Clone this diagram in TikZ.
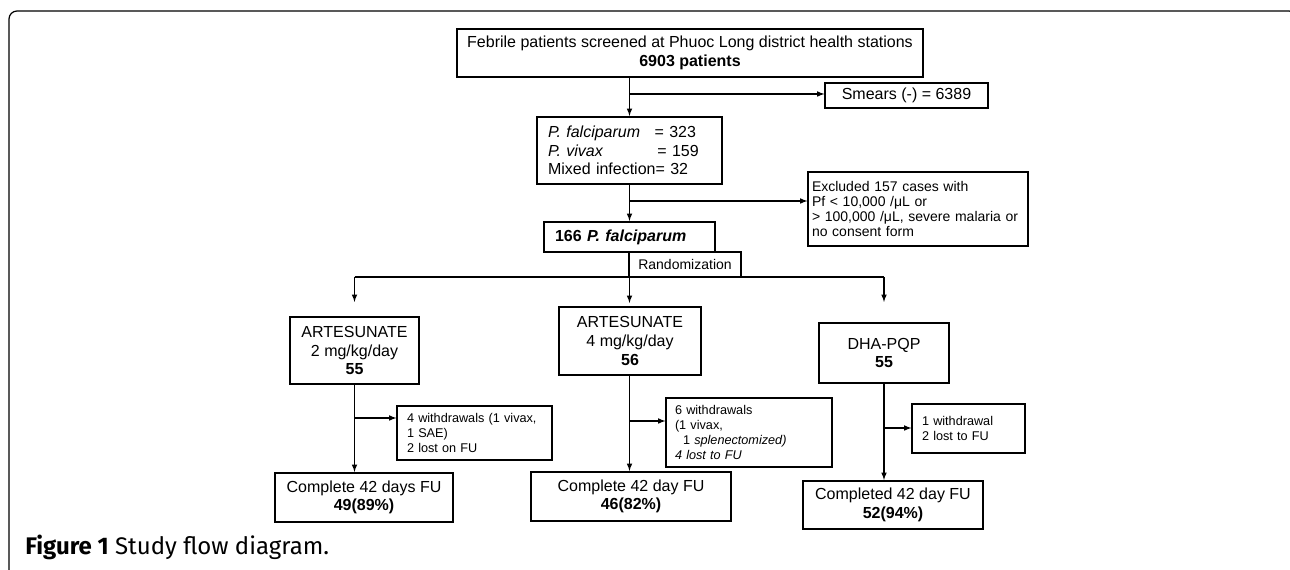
\documentclass[tikz,border=0pt]{standalone}
\usepackage{fontspec}
\setmainfont{Liberation Sans}
\newfontfamily\capfont{Fira Sans}
\usetikzlibrary{arrows,positioning}

\begin{document}
\begin{tikzpicture}[x=0.75pt,y=-0.75pt,
    bigtext/.style={font=\fontsize{12}{14}\selectfont},
    smalltext/.style={font=\fontsize{10.5}{11.25}\selectfont},
    wtext/.style={font=\fontsize{9.5}{11.25}\selectfont},
    mainbox/.style={draw,line width=1.6pt,inner sep=0pt,align=center,bigtext},
    sidebox/.style={draw,line width=0.8pt,inner ysep=0pt,align=left,smalltext},
    flow/.style={-latex,line width=0.9pt}]
  \useasboundingbox (0,0) rectangle (1290,570);
  \clip (0,0) rectangle (1290,570);
  % outer frame
  \draw[line width=0.9pt,rounded corners=6pt] (9,590) -- (9,11) -- (1297,11) -- (1297,60);

  % screening
  \node[mainbox,minimum width=349.5pt,minimum height=36pt] (screen) at (690,53)
    {Febrile patients screened at Phuoc Long district health stations\\\textbf{6903 patients}};
  \node[sidebox,bigtext,align=center,inner sep=0pt,minimum width=122.25pt,minimum height=18.75pt] (smear) at (906.5,95.5)
    {Smears (-) = 6389};
  \node[mainbox,align=left,text width=122.25pt,inner xsep=8.25pt,minimum height=50.25pt] (species) at (629.5,150.5)
    {\makebox[80pt][l]{\textit{P. falciparum}}= 323\\
     \makebox[82pt][l]{\textit{P. vivax}}= 159\\
     Mixed infection= 32};
  \node[sidebox,text width=159pt,inner xsep=3pt,minimum height=55.5pt] (excluded) at (918,209)
    {Excluded 157 cases with\\Pf < 10,000 /μL or\\> 100,000 /μL, severe malaria or\\no consent form};
  \node[mainbox,align=left,text width=111.75pt,inner xsep=8.25pt,minimum height=22.5pt] (pfal) at (629.5,237)
    {\textbf{166 \textit{P. falciparum}}};
  \node[sidebox,align=center,inner sep=0pt,minimum width=84pt,minimum height=18.75pt] (random) at (685,264.5)
    {Randomization};

  % arms
  \node[mainbox,minimum width=96.75pt,minimum height=50.25pt] (arts2) at (354.5,350.5)
    {ARTESUNATE\\2 mg/kg/day\\\textbf{55}};
  \node[mainbox,minimum width=106.5pt,minimum height=51pt] (arts4) at (630,341)
    {ARTESUNATE\\4 mg/kg/day\\\textbf{56}};
  \node[mainbox,minimum width=97.5pt,minimum height=45pt] (dhapqp) at (884,353)
    {DHA-PQP\\\textbf{55}};

  \node[sidebox,wtext,text width=101.25pt,inner xsep=7.5pt,minimum height=40.5pt] (with1) at (474.5,433)
    {4 withdrawals (1 vivax,\\1 SAE)\\2 lost on FU};
  \node[sidebox,wtext,text width=111pt,inner xsep=6.75pt,minimum height=51.75pt] (with2) at (749,432.5)
    {6 withdrawals\\(1 vivax,\\\hspace*{6pt}1 \textit{splenectomized)}\\\textit{4 lost to FU}};
  \node[sidebox,wtext,text width=69.75pt,inner xsep=7.5pt,minimum height=36.75pt] (with3) at (968.5,428.5)
    {1 withdrawal\\2 lost to FU};

  \node[mainbox,minimum width=133.5pt,minimum height=36.75pt] (comp1) at (364,497.5)
    {Complete 42 days FU\\\textbf{49(89\%)}};
  \node[mainbox,minimum width=150pt,minimum height=36.75pt] (comp2) at (631,496.5)
    {Complete 42 day FU\\\textbf{46(82\%)}};
  \node[mainbox,minimum width=135pt,minimum height=36pt] (comp3) at (893,505)
    {Completed 42 day FU\\\textbf{52(94\%)}};

  % connectors
  \coordinate (b1) at (629.5,94);
  \coordinate (b2) at (629.5,201);
  \coordinate (split) at (629.5,277);
  \draw[flow] (screen.south -| species.north) -- (species.north);
  \draw[flow] (b1) -- (b1 -| smear.west);
  \draw[flow] (species.south) -- (pfal.north);
  \draw[flow] (b2) -- (b2 -| excluded.west);
  \draw[line width=0.9pt] (pfal.south) -- (split);
  \draw[line width=0.9pt] (split -| arts2.north) -- (split -| dhapqp.north);
  \draw[flow,shorten >=10.5pt] (split -| arts2.north) -- (arts2.north);
  \draw[flow,shorten >=2.25pt] (split) -- (split |- arts4.north);
  \draw[flow,shorten >=15pt] (split -| dhapqp.north) -- (dhapqp.north);

  \coordinate (b3) at (354.5,418);
  \coordinate (b4) at (629.5,421);
  \coordinate (b5) at (884,428);
  \draw[flow] (arts2.south) -- (arts2.south |- comp1.north);
  \draw[flow] (b3) -- (b3 -| with1.west);
  \draw[flow] (arts4.south -| split) -- (split |- comp2.north);
  \draw[flow] (b4) -- (b4 -| with2.west);
  \draw[flow] (dhapqp.south) -- (dhapqp.south |- comp3.north);
  \draw[flow] (b5) -- (b5 -| with3.west);

  % caption
  \node[anchor=west,inner sep=0pt,font=\capfont\fontsize{18}{21}\selectfont] (caption) at (25,547)
    {\textbf{Figure 1} Study flow diagram.};
\end{tikzpicture}
\end{document}
